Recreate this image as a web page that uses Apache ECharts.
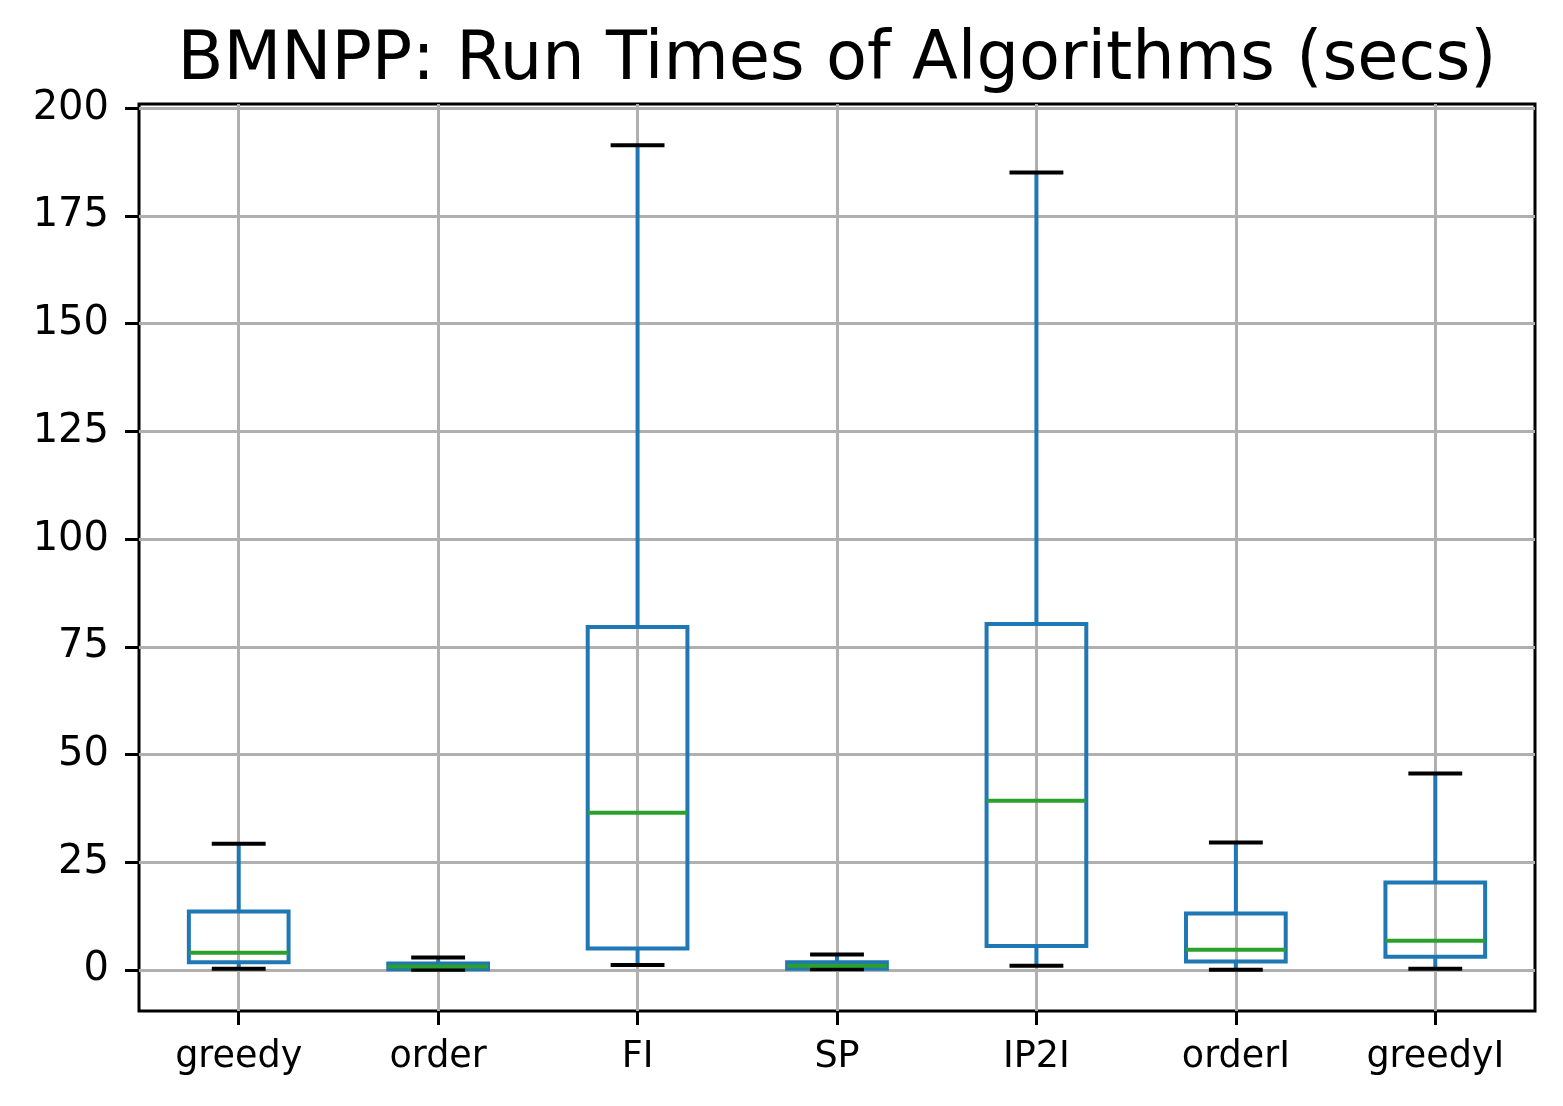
<!DOCTYPE html>
<html>
<head>
<meta charset="utf-8">
<script src="https://cdn.jsdelivr.net/npm/echarts@6/dist/echarts.min.js"></script>
<style>
html,body{margin:0;padding:0;background:#fff;}
#chart{width:1563px;height:1106px;}
</style>
</head>
<body>
<div id="chart"></div>
<script>
const categories = ['greedy', 'order', 'FI', 'SP', 'IP2I', 'orderI', 'greedyI'];
const whiskerLow  = [0.3, 0.1, 1.2, 0.2, 1.0, 0.1, 0.3];
const q1          = [1.8, 0.2, 5.0, 0.3, 5.6, 2.0, 3.1];
const medians     = [4.0, 0.85, 36.5, 1.0, 39.3, 4.7, 6.8];
const q3          = [13.6, 1.55, 79.6, 1.8, 80.3, 13.1, 20.3];
const whiskerHigh = [29.3, 2.9, 191.4, 3.6, 185.1, 29.6, 45.6];
const yTicks = [0, 25, 50, 75, 100, 125, 150, 175, 200];
const titleText = 'BMNPP: Run Times of Algorithms (secs)';

const boxData = categories.map((c, i) => [i, whiskerLow[i], q1[i], medians[i], q3[i], whiskerHigh[i]]);
const xTickValues = categories.map((c, i) => i);

const FONT = 'DejaVu Sans';
const BLUE = '#1f77b4', GREEN = '#2ca02c';

const chart = echarts.init(document.getElementById('chart'), null, {renderer: 'canvas'});
chart.setOption({
  animation: false,
  backgroundColor: '#fff',
  title: {
    text: titleText,
    left: 837,
    top: 28,
    padding: 0,
    textAlign: 'center',
    textStyle: {fontFamily: FONT, fontSize: 67, fontWeight: 'normal', color: '#000'}
  },
  grid: {
    left: 139, right: 28, top: 104, bottom: 95,
    show: true, borderColor: '#000', borderWidth: 3, backgroundColor: 'transparent'
  },
  xAxis: {
    type: 'value',
    min: -0.5, max: 6.5,
    position: 'bottom',
    axisLine: {show: false, onZero: false},
    axisTick: {show: true, customValues: xTickValues, length: 14, inside: false, lineStyle: {color: '#000', width: 3}},
    axisLabel: {
      show: true, customValues: xTickValues, margin: 28,
      fontFamily: FONT, fontSize: 36.5, color: '#000',
      formatter: v => categories[Math.round(v)]
    },
    splitLine: {show: true, lineStyle: {color: '#b0b0b0', width: 3}}
  },
  yAxis: {
    type: 'value',
    min: -9.5, max: 201,
    position: 'left',
    axisLine: {show: false, onZero: false},
    axisTick: {show: true, customValues: yTicks, length: 14, inside: false, lineStyle: {color: '#000', width: 3}},
    axisLabel: {
      show: true, customValues: yTicks, margin: 30,
      fontFamily: FONT, fontSize: 40, color: '#000',
      formatter: v => String(v)
    },
    splitLine: {show: true, lineStyle: {color: '#b0b0b0', width: 3}}
  },
  series: [{
    type: 'custom',
    data: boxData,
    encode: {x: 0, y: [1, 2, 3, 4, 5]},
    renderItem: function (params, api) {
      const i = api.value(0);
      const pLo = api.coord([i, api.value(1)]);
      const pQ1 = api.coord([i, api.value(2)]);
      const pMed = api.coord([i, api.value(3)]);
      const pQ3 = api.coord([i, api.value(4)]);
      const pHi = api.coord([i, api.value(5)]);
      const boxW = api.size([0.5, 0])[0];
      const capW = api.size([0.25, 0])[0];
      const cx = pQ1[0];
      const lw = 4;
      return {
        type: 'group',
        children: [
          {type: 'polygon', shape: {points: [[cx - boxW/2, pQ1[1]], [cx + boxW/2, pQ1[1]], [cx + boxW/2, pQ3[1]], [cx - boxW/2, pQ3[1]]]},
           style: {fill: 'none', stroke: BLUE, lineWidth: lw, lineJoin: 'miter'}},
          {type: 'line', shape: {x1: cx, y1: pQ3[1], x2: cx, y2: pHi[1]}, style: {stroke: BLUE, lineWidth: lw}},
          {type: 'line', shape: {x1: cx, y1: pQ1[1], x2: cx, y2: pLo[1]}, style: {stroke: BLUE, lineWidth: lw}},
          {type: 'line', shape: {x1: cx - capW/2, y1: pHi[1], x2: cx + capW/2, y2: pHi[1]}, style: {stroke: '#000', lineWidth: lw, lineCap: 'square'}},
          {type: 'line', shape: {x1: cx - capW/2, y1: pLo[1], x2: cx + capW/2, y2: pLo[1]}, style: {stroke: '#000', lineWidth: lw, lineCap: 'square'}},
          {type: 'line', shape: {x1: cx - boxW/2, y1: pMed[1], x2: cx + boxW/2, y2: pMed[1]}, style: {stroke: GREEN, lineWidth: lw}}
        ]
      };
    }
  }]
});
</script>
</body>
</html>
